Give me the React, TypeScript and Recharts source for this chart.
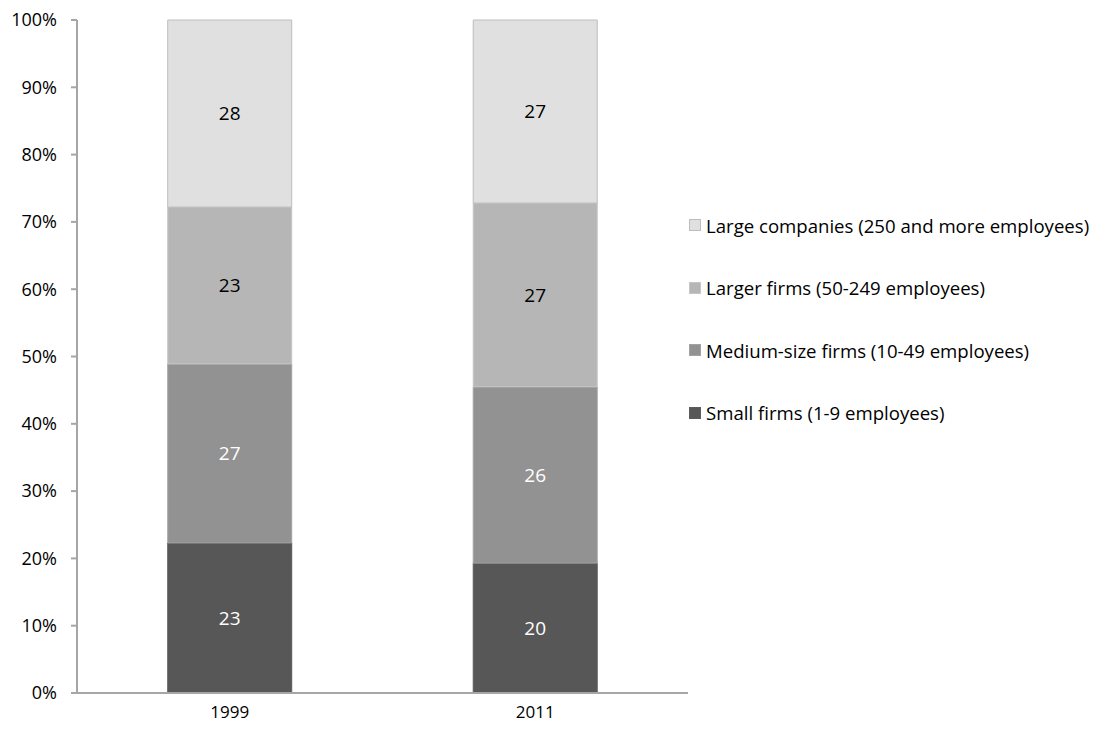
import { Bar, BarChart, CartesianGrid, LabelList, Legend, XAxis, YAxis } from "recharts";

const YEARS = ["1999", "2011"];

// shares in %
const SMALL = [22.3, 19.3];
const MEDIUM = [26.6, 26.2];
const LARGER = [23.3, 27.3];
const LARGE = [27.8, 27.2];

// numbers printed inside the segments
const SMALL_LABELS = [23, 20];
const MEDIUM_LABELS = [27, 26];
const LARGER_LABELS = [23, 27];
const LARGE_LABELS = [28, 27];

const Y_TICKS = [0, 10, 20, 30, 40, 50, 60, 70, 80, 90, 100];

const FONT = "'Open Sans', sans-serif";

const SERIES = [
  { key: "small", name: "Small firms (1-9 employees)", fill: "#575757", stroke: "#5c5c5c", text: "#ffffff" },
  { key: "medium", name: "Medium-size firms (10-49 employees)", fill: "#929292", stroke: "#a3a3a3", text: "#ffffff" },
  { key: "larger", name: "Larger firms (50-249 employees)", fill: "#b6b6b6", stroke: "#c6c6c6", text: "#000000" },
  { key: "large", name: "Large companies (250 and more employees)", fill: "#e0e0e0", stroke: "#bdbdbd", text: "#000000" },
];

const data = YEARS.map((year, i) => ({
  year,
  small: SMALL[i],
  medium: MEDIUM[i],
  larger: LARGER[i],
  large: LARGE[i],
  smallLabel: SMALL_LABELS[i],
  mediumLabel: MEDIUM_LABELS[i],
  largerLabel: LARGER_LABELS[i],
  largeLabel: LARGE_LABELS[i],
}));

function LegendBox() {
  const rows = [...SERIES].reverse();
  return (
    <div style={{ fontFamily: FONT, fontSize: 18.6, color: "#000" }}>
      {rows.map((s, i) => (
        <div
          key={s.key}
          style={{ display: "flex", alignItems: "center", height: 26, marginBottom: i < rows.length - 1 ? 36.5 : 0 }}
        >
          <span
            style={{
              display: "inline-block",
              width: 10,
              height: 10,
              background: s.fill,
              border: `1px solid ${s.stroke}`,
              marginRight: 5,
            }}
          />
          <span style={{ whiteSpace: "nowrap" }}>{s.name}</span>
        </div>
      ))}
    </div>
  );
}

export default function App() {
  return (
    <div style={{ position: "absolute", left: 0, top: 0, width: 1098, height: 730, background: "#fff" }}>
      <BarChart
        width={1098}
        height={730}
        data={data}
        margin={{ top: 20, right: 1, bottom: 0, left: 0 }}
        barCategoryGap="29.7%"
      >
        <CartesianGrid vertical={false} horizontal={false} />
        <XAxis
          dataKey="year"
          height={37}
          tickLine={false}
          axisLine={{ stroke: "#a6a6a6", strokeWidth: 2 }}
          tick={{ fontSize: 17, fill: "#000", fontFamily: FONT }}
          tickMargin={7}
        />
        <YAxis
          width={77}
          domain={[0, 100]}
          ticks={Y_TICKS}
          interval={0}
          tickFormatter={(v: number) => `${v}%`}
          axisLine={{ stroke: "#a6a6a6", strokeWidth: 2 }}
          tickLine={{ stroke: "#a6a6a6", strokeWidth: 2 }}
          tickSize={6}
          tickMargin={14}
          tick={{ fontSize: 18, fill: "#000", fontFamily: FONT }}
        />
        <Legend
          verticalAlign="top"
          align="right"
          layout="vertical"
          width={409}
          wrapperStyle={{ left: 689, top: 212, width: 409 }}
          content={() => <LegendBox />}
        />
        {SERIES.map((s) => (
          <Bar
            key={s.key}
            dataKey={s.key}
            name={s.name}
            stackId="share"
            fill={s.fill}
            stroke={s.stroke}
            strokeWidth={1}
            isAnimationActive={false}
          >
            <LabelList
              dataKey={`${s.key}Label`}
              position="center"
              fill={s.text}
              style={{ fontSize: 19, fontFamily: FONT }}
            />
          </Bar>
        ))}
      </BarChart>
    </div>
  );
}
